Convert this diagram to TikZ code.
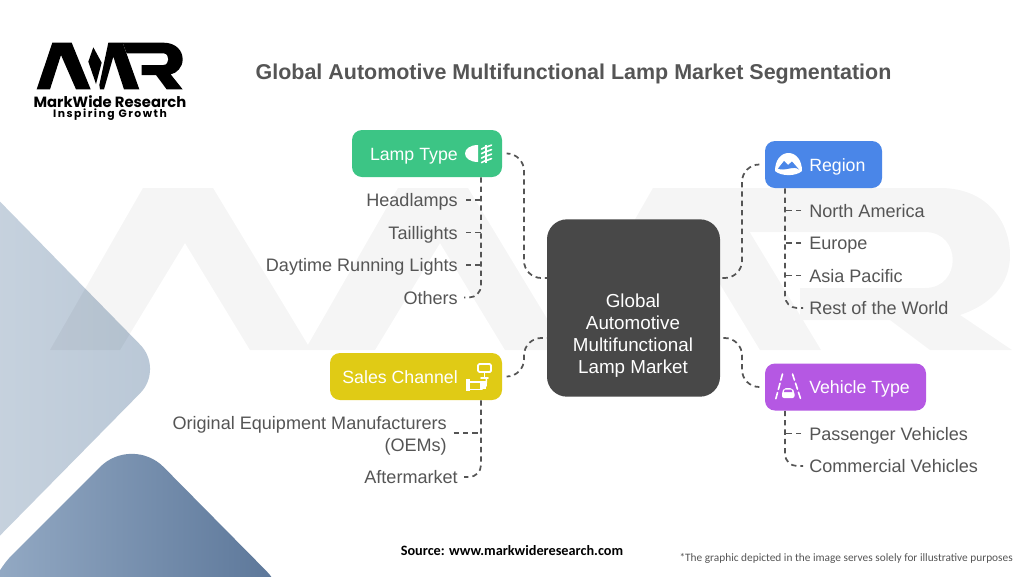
\documentclass[tikz,border=0pt]{standalone}
\usepackage{fontspec}
\setmainfont{Liberation Sans}
\newfontfamily\logofont[LetterSpace=0]{Poppins}
\newfontfamily\logotag[LetterSpace=14]{Poppins}
\newfontfamily\notefont{Carlito}
\usetikzlibrary{calc}
\definecolor{ink}{HTML}{555555}
\definecolor{dark}{HTML}{484848}
\definecolor{cgreen}{HTML}{3CC585}
\definecolor{cblue}{HTML}{4A86E8}
\definecolor{cyellow}{HTML}{E0CB15}
\definecolor{cpurple}{HTML}{B558E3}
\definecolor{dia1}{HTML}{CFD9E3}
\definecolor{dia2}{HTML}{B9C7D6}
\definecolor{dib1}{HTML}{96ACC6}
\definecolor{dib2}{HTML}{587396}
\tikzset{
 x=0.75pt,y=-0.75pt,
 box/.style={rounded corners=7.5pt,inner sep=0pt,draw=none,minimum height=35.25pt},
 boxtext/.style={text=white,inner sep=0pt,font=\fontsize{13.3pt}{16pt}\selectfont},
 item/.style={text=ink,inner sep=0pt,font=\fontsize{13.55pt}{16.5pt}\selectfont},
 conn/.style={draw=ink,line width=1.3pt,dash pattern=on 4pt off 3pt},
 icon/.style={fill=white,draw=none},
 iconline/.style={draw=white,line width=1.2pt,line cap=round},
}
\begin{document}
\begin{tikzpicture}
\useasboundingbox (0,0) rectangle (1024,576);
\fill[white] (0,0) rectangle (1024,576);
% decorative diamonds
\shade[rounded corners=25.5pt,left color=dia1,right color=dia2]
 (-30,171)--(164,369)--(-30,566)--(-120,369)--cycle;
\shade[rounded corners=34pt,shading angle=125,left color=dib1,right color=dib2]
 (-20,587)--(132,435)--(298,603)--(-20,603)--cycle;
% watermark
\fill[black,opacity=.04]
 (50,350)--(143,188)--(213,188)--(311,350)--(250,350)--(185,243)--(120,350)--cycle
 (305,350)--(398,188)--(468,188)--(566,350)--(505,350)--(440,243)--(375,350)--cycle
 (560,350)--(653,188)--(723,188)--(821,350)--(760,350)--(695,243)--(630,350)--cycle
 (723,188)--(940,188) .. controls (990,188) and (1010,225) .. (1010,255) .. controls (1010,285) and (990,305) .. (960,315) -- (1012,350)--(930,350)--(890,320)--(800,320)--(800,288)--(925,288) .. controls (962,288) and (962,232) .. (925,232)--(750,232)--cycle;
% logo
\begin{scope}[shift={(0,20)},x=0.25pt,y=-0.25pt,black]
\fill (110,208)--(157,68)--(215,68)--(272,208)--(228,208)--(183,105)--(150,208)--cycle;
\fill (280,82)--(265,125)--(288,192)--(305,128)--cycle;
\fill (298,195)--(325,68)--(368,68)--(418,208)--(372,208)--(340,110)--(312,208)--(300,208)--cycle;
\fill (368,68)--(490,68) .. controls (528,68) and (548,92) .. (548,118) .. controls (548,142) and (530,160) .. (512,163)--(548,208)--(500,208)--(468,165)--(425,165)--(425,135)--(490,135) .. controls (510,135) and (510,100) .. (490,100)--(380,100)--cycle;
\end{scope}
\node[inner sep=0pt,text=black] (brand) at (110,101.5) {\logofont\bfseries\fontsize{11.1pt}{12pt}\selectfont MarkWide Research};
\node[inner sep=0pt,text=black] (tag) at (110,114.5) {\logotag\fontsize{8.1pt}{10pt}\selectfont\bfseries Inspiring Growth};
% title
\node[inner sep=0pt,text=ink] (title) at (573.5,74) {\fontsize{16.1pt}{20pt}\selectfont\bfseries Global Automotive Multifunctional Lamp Market Segmentation};
% centre
\node[box,fill=dark,rounded corners=15pt,minimum width=129.75pt,minimum height=133pt] (hub) at (633.5,308) {};
\node[text=white,inner sep=0pt,align=center,font=\fontsize{14.1pt}{16.5pt}\selectfont] (hubtext) at (633,335.5) {Global\\Automotive\\Multifunctional\\Lamp Market};
% category boxes
\node[box,fill=cgreen,minimum width=112.5pt] (lamp) at (427,153.5) {};
\node[box,fill=cblue,minimum width=87.75pt] (region) at (823.5,164.5) {};
\node[box,fill=cyellow,minimum width=129pt] (sales) at (416,376.5) {};
\node[box,fill=cpurple,minimum width=120.75pt] (vehicle) at (845.5,387) {};
\node[boxtext,anchor=base east] (lamplbl) at (458,160) {Lamp Type};
\node[boxtext,anchor=base west] (regionlbl) at (809,171) {Region};
\node[boxtext,anchor=base east] (saleslbl) at (458,383) {Sales Channel};
\node[boxtext,anchor=base west] (vehiclelbl) at (809,393.5) {Vehicle Type};
% items
\foreach \n/\y/\t in {a1/206.5/Headlamps,a2/239/Taillights,a3/271.5/Daytime Running Lights,a4/304/Others,c2/483.5/Aftermarket}
 \node[item,anchor=base east] (\n) at (458,\y) {\t};
\node[item,anchor=east,align=right] (c1) at (447,436) {Original Equipment Manufacturers\\(OEMs)};
\foreach \n/\y/\t in {b1/217/North America,b2/249.5/Europe,b3/282/Asia Pacific,b4/314.5/Rest of the World,d1/440/Passenger Vehicles,d2/472.5/Commercial Vehicles}
 \node[item,anchor=base west] (\n) at (809,\y) {\t};
% named points on connectors
\coordinate (h1) at (547,278); \coordinate (h2) at (720,278);
\coordinate (h3) at (547,338); \coordinate (h4) at (720,338);
\foreach \n/\y in {a1/200,a2/232.5,a3/265,a4/297.5,c1/433,c2/477}
 \coordinate (\n j) at (481,\y);
\foreach \n/\y in {b1/210.5,b2/243,b3/275.5,b4/308,d1/433.5,d2/466}
 \coordinate (\n j) at (785,\y);
% hub connectors
\draw[conn,rounded corners=13pt,shorten <=4.5pt] (lamp.east)--(524,153.5)--(524,278)--(h1);
\draw[conn,rounded corners=13pt,shorten <=4.5pt] (region.west)--(742,164.5)--(742,278)--(h2);
\draw[conn,rounded corners=13pt,shorten <=4.5pt] (sales.east)--(524,376.5)--(524,338)--(h3);
\draw[conn,rounded corners=13pt,shorten <=4.5pt] (vehicle.west)--(742,387)--(742,338)--(h4);
% trunks
\draw[conn,rounded corners=9pt,shorten >=4.5pt] (lamp.south -| a4j)--(a4j)--(a4j -| a4.east);
\draw[conn,rounded corners=9pt,shorten >=4.5pt] (region.south -| b4j)--(b4j)--(b4j -| b4.west);
\draw[conn,rounded corners=9pt,shorten >=4.5pt] (sales.south -| c2j)--(c2j)--(c2j -| c2.east);
\draw[conn,rounded corners=9pt,shorten >=4.5pt] (vehicle.south -| d2j)--(d2j)--(d2j -| d2.west);
\foreach \n in {a1,a2,a3} \draw[conn,shorten <=6pt] (\n j -| \n.east)--(\n j);
\foreach \n in {b1,b2,b3,d1} \draw[conn,shorten <=6pt] (\n j -| \n.west)--(\n j);
\draw[conn,shorten <=5pt] (c1j -| c1.east)--(c1j);
% lamp icon
\fill[icon] (478,145) .. controls (470,145) and (465,149) .. (465,153.5) .. controls (465,158) and (470,162) .. (478,162)--cycle;
\foreach \yy in {147.5,152,156.5,161}{
 \draw[iconline] (481.5,\yy+1.6)--(485.5,\yy-0.5) (486.5,\yy-0.5)--(491.5,\yy-2.4);
}
\draw[white,line width=.9pt] (486,144.5)--(486,163);
% region icon
\fill[icon] (775,171) .. controls (775,160) and (781,153) .. (788.5,153) .. controls (796,153) and (802,160) .. (802,171) .. controls (796,176.5) and (781,176.5) .. (775,171)--cycle;
\fill[cblue] (778,168.5)--(784,161)--(788,165)--(792,161.5)--(799,169.5) .. controls (794,165) and (784,172) .. (778,168.5)--cycle;
% sales icon
\draw[white,line width=1.4pt,rounded corners=1pt] (478,364)--(491,364)--(491,372)--(478,372)--cycle;
\draw[iconline] (484.5,372)--(484.5,377) (481,378)--(488,378);
\draw[iconline] (486.5,378)--(486,386);
\fill[icon] (465.5,379)--(470,379)--(470,391)--(465.5,391)--cycle;
\fill[icon] (480,381)--(486,381)--(486,388.5)--(480,388.5)--cycle;
\draw[iconline] (468,382)--(482,382) (468,389.5)--(482,389.5);
% vehicle icon
\draw[iconline,dash pattern=on 4.8pt off 2.4pt] (782.5,374)--(775.5,400);
\draw[iconline,dash pattern=on 4.8pt off 2.4pt] (792.5,374)--(801,400);
\fill[icon,rounded corners=1.5pt] (782,398)--(782,392)--(784,388)--(792,388)--(794.5,392)--(794.5,398)--cycle;
\fill[cpurple] (784.6,389.5)--(791.4,389.5)--(792.3,392)--(784,392)--cycle;
% footer
\node[inner sep=0pt,text=black] (src) at (512,551) {\notefont\bfseries\fontsize{10.7pt}{12pt}\selectfont Source: www.markwideresearch.com};
\node[inner sep=0pt,text=ink,anchor=east] (note) at (1013,558) {\notefont\fontsize{8.5pt}{10pt}\selectfont *The graphic depicted in the image serves solely for illustrative purposes};
\end{tikzpicture}
\end{document}
